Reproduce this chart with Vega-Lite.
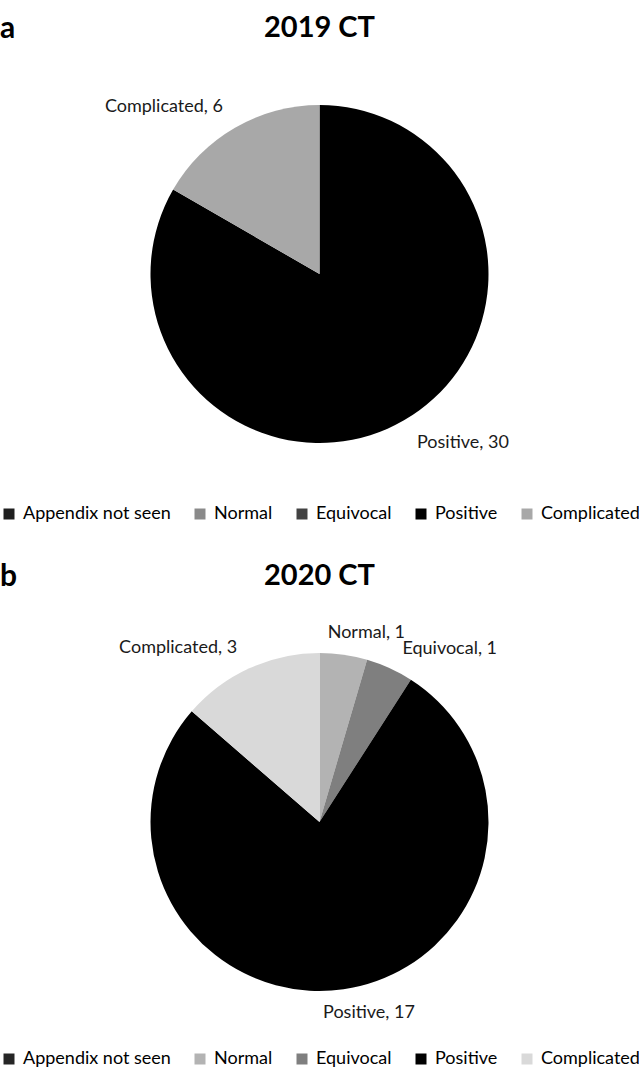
{
  "$schema": "https://vega.github.io/schema/vega-lite/v6.json",
  "padding": {"top": 14, "left": 0, "right": 0, "bottom": 0},
  "spacing": 39,
  "background": "white",
  "config": {"view": {"stroke": null}, "font": "Lato"},
  "datasets": {
    "ct2019": [
      {"category": "Appendix not seen", "count": 0, "order": 1, "label": "Appendix not seen, 0"},
      {"category": "Normal", "count": 0, "order": 2, "label": "Normal, 0"},
      {"category": "Equivocal", "count": 0, "order": 3, "label": "Equivocal, 0"},
      {"category": "Positive", "count": 30, "order": 4, "label": "Positive, 30"},
      {"category": "Complicated", "count": 6, "order": 5, "label": "Complicated, 6"}
    ],
    "ct2020": [
      {"category": "Appendix not seen", "count": 0, "order": 1, "label": "Appendix not seen, 0"},
      {"category": "Normal", "count": 1, "order": 2, "label": "Normal, 1"},
      {"category": "Equivocal", "count": 1, "order": 3, "label": "Equivocal, 1"},
      {"category": "Positive", "count": 17, "order": 4, "label": "Positive, 17"},
      {"category": "Complicated", "count": 3, "order": 5, "label": "Complicated, 3"}
    ]
  },
  "resolve": {"scale": {"color": "independent"}},
  "vconcat": [
    {
      "title": {"text": "a", "anchor": "start", "fontSize": 30, "font": "Lato", "fontWeight": "bold", "offset": -30, "color": "black"},
      "vconcat": [
        {
          "title": {"text": "2019 CT", "anchor": "middle", "fontSize": 29, "font": "Lato", "fontWeight": "bold", "offset": 12, "color": "black"},
          "width": 639,
          "height": 438,
          "data": {"name": "ct2019"},
          "layer": [
            {
              "mark": {"type": "arc", "outerRadius": 169},
              "encoding": {
                "theta": {"field": "count", "type": "quantitative", "stack": true},
                "order": {"field": "order", "type": "quantitative"},
                "color": {
                  "field": "category", "type": "nominal",
                  "scale": {"domain": ["Appendix not seen", "Normal", "Equivocal", "Positive", "Complicated"], "range": ["#1f1f1f", "#8a8a8a", "#424242", "#000000", "#a8a8a8"]},
                  "legend": {"orient": "none", "legendX": 0, "legendY": 450, "direction": "horizontal", "title": null, "symbolType": "square", "symbolSize": 121, "symbolStrokeWidth": 0, "symbolOpacity": 1, "labelFontSize": 18, "labelFont": "Lato", "labelColor": "black", "columnPadding": 20, "labelOffset": 5, "labelLimit": 300}
                }
              }
            },
            {
              "mark": {"type": "text", "radius": 193, "align": "right", "baseline": "middle", "fontSize": 18, "font": "Lato", "color": "#1a1a1a"},
              "encoding": {
                "theta": {"field": "count", "type": "quantitative", "stack": true},
                "order": {"field": "order", "type": "quantitative"},
                "text": {"condition": {"test": "datum.category === 'Complicated'", "field": "label"}, "value": ""}
              }
            },
            {
              "mark": {"type": "text", "radius": 195, "align": "left", "baseline": "middle", "fontSize": 18, "font": "Lato", "color": "#1a1a1a"},
              "encoding": {
                "theta": {"field": "count", "type": "quantitative", "stack": true},
                "order": {"field": "order", "type": "quantitative"},
                "text": {"condition": {"test": "datum.category === 'Positive'", "field": "label"}, "value": ""}
              }
            }
          ]
        }
      ]
    },
    {
      "title": {"text": "b", "anchor": "start", "fontSize": 30, "font": "Lato", "fontWeight": "bold", "offset": -30, "color": "black"},
      "vconcat": [
        {
          "title": {"text": "2020 CT", "anchor": "middle", "fontSize": 29, "font": "Lato", "fontWeight": "bold", "offset": 12, "color": "black"},
          "width": 639,
          "height": 438,
          "data": {"name": "ct2020"},
          "layer": [
            {
              "mark": {"type": "arc", "outerRadius": 169},
              "encoding": {
                "theta": {"field": "count", "type": "quantitative", "stack": true},
                "order": {"field": "order", "type": "quantitative"},
                "color": {
                  "field": "category", "type": "nominal",
                  "scale": {"domain": ["Appendix not seen", "Normal", "Equivocal", "Positive", "Complicated"], "range": ["#262626", "#b3b3b3", "#7f7f7f", "#000000", "#d9d9d9"]},
                  "legend": {"orient": "none", "legendX": 0, "legendY": 447, "direction": "horizontal", "title": null, "symbolType": "square", "symbolSize": 121, "symbolStrokeWidth": 0, "symbolOpacity": 1, "labelFontSize": 18, "labelFont": "Lato", "labelColor": "black", "columnPadding": 20, "labelOffset": 5, "labelLimit": 300}
                }
              }
            },
            {
              "mark": {"type": "text", "radius": 191, "align": "right", "baseline": "middle", "fontSize": 18, "font": "Lato", "color": "#1a1a1a", "dx": -3},
              "encoding": {
                "theta": {"field": "count", "type": "quantitative", "stack": true},
                "order": {"field": "order", "type": "quantitative"},
                "text": {"condition": {"test": "datum.category === 'Complicated'", "field": "label"}, "value": ""}
              }
            },
            {
              "mark": {"type": "text", "radius": 191, "align": "left", "baseline": "middle", "fontSize": 18, "font": "Lato", "color": "#1a1a1a", "dx": -19},
              "encoding": {
                "theta": {"field": "count", "type": "quantitative", "stack": true},
                "order": {"field": "order", "type": "quantitative"},
                "text": {"condition": {"test": "datum.category === 'Normal'", "field": "label"}, "value": ""}
              }
            },
            {
              "mark": {"type": "text", "radius": 190, "align": "left", "baseline": "middle", "fontSize": 18, "font": "Lato", "color": "#1a1a1a", "dx": 4},
              "encoding": {
                "theta": {"field": "count", "type": "quantitative", "stack": true},
                "order": {"field": "order", "type": "quantitative"},
                "text": {"condition": {"test": "datum.category === 'Equivocal'", "field": "label"}, "value": ""}
              }
            },
            {
              "mark": {"type": "text", "radius": 193, "align": "center", "baseline": "middle", "fontSize": 18, "font": "Lato", "color": "#1a1a1a", "dx": 22},
              "encoding": {
                "theta": {"field": "count", "type": "quantitative", "stack": true},
                "order": {"field": "order", "type": "quantitative"},
                "text": {"condition": {"test": "datum.category === 'Positive'", "field": "label"}, "value": ""}
              }
            }
          ]
        }
      ]
    }
  ]
}
